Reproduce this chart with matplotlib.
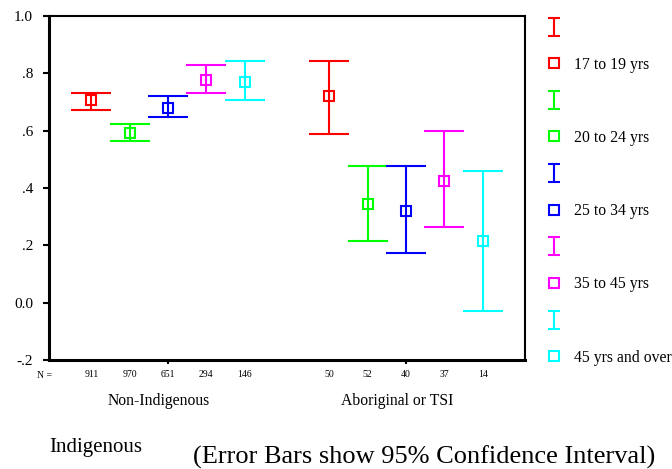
import matplotlib
matplotlib.use("Agg")
import matplotlib.pyplot as plt
import matplotlib.transforms as mtransforms
from matplotlib.path import Path
from matplotlib.lines import Line2D
import numpy as np

plt.rcParams['font.family'] = ['Liberation Serif', 'DejaVu Serif']

groups = ["Non-Indigenous", "Aboriginal or TSI"]
series = ["17 to 19 yrs", "20 to 24 yrs", "25 to 34 yrs", "35 to 45 yrs", "45 yrs and over"]
colors = ["#ff0000", "#00ff00", "#0000ff", "#ff00ff", "#00ffff"]

means = {
    "17 to 19 yrs":    [0.706, 0.720],
    "20 to 24 yrs":    [0.592, 0.345],
    "25 to 34 yrs":    [0.680, 0.320],
    "35 to 45 yrs":    [0.776, 0.426],
    "45 yrs and over": [0.770, 0.214],
}
lower = {
    "17 to 19 yrs":    [0.671, 0.590],
    "20 to 24 yrs":    [0.565, 0.216],
    "25 to 34 yrs":    [0.648, 0.173],
    "35 to 45 yrs":    [0.730, 0.263],
    "45 yrs and over": [0.706, -0.029],
}
upper = {
    "17 to 19 yrs":    [0.731, 0.843],
    "20 to 24 yrs":    [0.623, 0.476],
    "25 to 34 yrs":    [0.721, 0.476],
    "35 to 45 yrs":    [0.829, 0.599],
    "45 yrs and over": [0.843, 0.459],
}
counts = {
    "17 to 19 yrs":    [911, 50],
    "20 to 24 yrs":    [970, 52],
    "25 to 34 yrs":    [651, 40],
    "35 to 45 yrs":    [294, 37],
    "45 yrs and over": [146, 14],
}
ytick_vals = [-0.2, 0.0, 0.2, 0.4, 0.6, 0.8, 1.0]
ytick_labels = ["-.2", "0.0", ".2", ".4", ".6", ".8", "1.0"]

W, H = 672, 469
fig = plt.figure(figsize=(W / 100, H / 100), dpi=100)
ax = fig.add_axes([49 / W, 1 - 360 / H, (525 - 49) / W, (360 - 16) / H])

xbase = np.arange(1, len(groups) + 1)
step = 0.161
for i, s in enumerate(series):
    x = xbase + (i - 2) * step
    m = np.array(means[s])
    lo = np.array(lower[s])
    hi = np.array(upper[s])
    ax.errorbar(x, m, yerr=[m - lo, hi - m], fmt='s', color=colors[i],
                mfc='none', mec=colors[i], ms=7.0, mew=1.5,
                elinewidth=1.5, capsize=14.4, capthick=1.5, zorder=3)
    for xi, n in zip(x, counts[s]):
        ax.text(xi, -0.0436, str(n), transform=ax.get_xaxis_transform(),
                ha='center', va='center', fontsize=7)

ax.text(44.5 / W, 1 - 375 / H, "N =", transform=fig.transFigure,
        ha='center', va='center', fontsize=7)

ax.set_xlim(0.5, 2.5)
ax.set_ylim(-0.2, 1.0)
ax.set_yticks(ytick_vals)
ax.set_yticklabels(ytick_labels, fontsize=11)
ax.set_xticks(xbase)
ax.set_xticklabels(groups, fontsize=11.3)
ax.tick_params(axis='y', direction='out', length=4.5, width=1.5, pad=7)
ax.tick_params(axis='x', direction='out', length=3, width=1.5, pad=21)
offset = mtransforms.ScaledTranslation(-0.09, 0, fig.dpi_scale_trans)
for lab in ax.get_xticklabels():
    lab.set_transform(lab.get_transform() + offset)

for side in ['left', 'bottom']:
    ax.spines[side].set_linewidth(2.2)
for side in ['top', 'right']:
    ax.spines[side].set_linewidth(1.5)

# legend
ibeam = Path([(-0.667, -1), (0.667, -1), (0, -1), (0, 1), (-0.667, 1), (0.667, 1)],
             [Path.MOVETO, Path.LINETO, Path.MOVETO, Path.LINETO, Path.MOVETO, Path.LINETO])
handles, labels = [], []
for i, s in enumerate(series):
    handles.append(Line2D([], [], color=colors[i], marker=ibeam, linestyle='none',
                          ms=13, mew=1.5))
    labels.append("")
    handles.append(Line2D([], [], color=colors[i], marker='s', linestyle='none',
                          mfc='none', ms=6.8, mew=1.5))
    labels.append(s)
fs = 11.3
fig.legend(handles, labels, loc='upper left',
           bbox_to_anchor=((553.7 - fs * 1.389 / 2) / W, 1 - 20 / H),
           frameon=False, fontsize=fs, handlelength=1.0, handletextpad=0.79,
           borderpad=0, borderaxespad=0, labelspacing=1.315, numpoints=1)

fig.text(95.5 / W, 1 - 447 / H, "Indigenous", ha='center', va='center', fontsize=15)
fig.text(424 / W, 1 - 457 / H, "(Error Bars show 95% Confidence Interval)",
         ha='center', va='center', fontsize=19)

fig.savefig("out.png", dpi=100)
